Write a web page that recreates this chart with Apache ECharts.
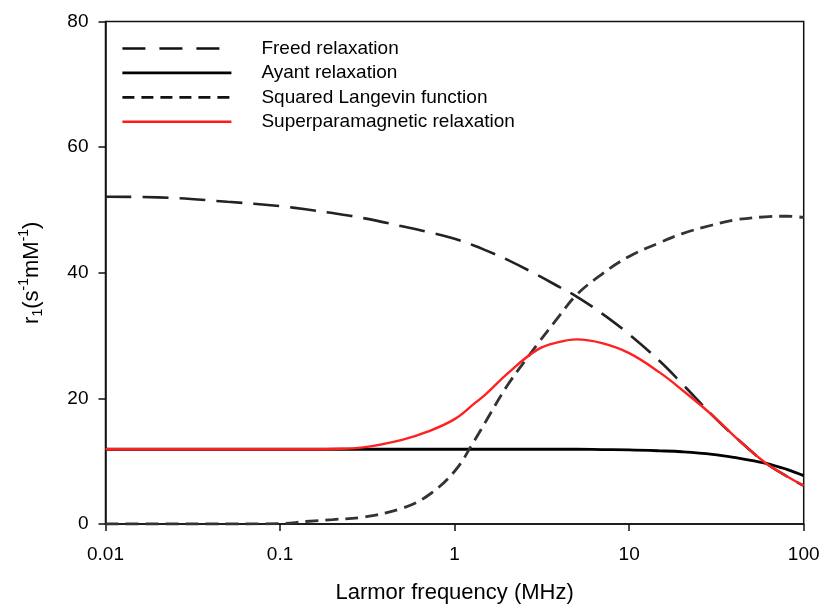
<!DOCTYPE html>
<html>
<head>
<meta charset="utf-8">
<script src="https://cdn.jsdelivr.net/npm/echarts@6/dist/echarts.min.js"></script>
<style>
  html, body { margin: 0; padding: 0; background: #fff; }
  #chart { width: 823px; height: 612px; }
</style>
</head>
<body>
<div id="chart"></div>
<script>
// Larmor frequency sample points (MHz)
const freq = [0.01, 0.02, 0.05, 0.1, 0.14, 0.2, 0.3, 0.5, 0.7, 1, 1.3, 1.5, 2, 3, 4, 5, 7, 10, 15, 20, 30, 40, 60, 80, 100];

// r1 (s^-1 mM^-1) for each model
const freedRelaxation = [52.1, 52.0, 51.3, 50.6, 50.1, 49.5, 48.7, 47.4, 46.5, 45.4, 44.3, 43.6, 42.1, 39.6, 37.7, 36.2, 33.5, 30.2, 25.9, 22.4, 17.3, 14.0, 9.8, 7.6, 6.1];
const ayantRelaxation = [11.9, 11.9, 11.9, 11.9, 11.9, 11.9, 11.9, 11.9, 11.9, 11.9, 11.9, 11.9, 11.9, 11.9, 11.9, 11.9, 11.85, 11.8, 11.65, 11.5, 11.1, 10.6, 9.7, 8.7, 7.7];
const squaredLangevin = [0, 0, 0, 0.05, 0.4, 0.7, 1.1, 2.5, 4.5, 8.4, 13.3, 16.2, 22.0, 28.7, 33.2, 36.5, 39.8, 42.6, 44.8, 46.2, 47.6, 48.4, 48.9, 49.0, 48.8];
const superparamagnetic = [11.9, 11.9, 11.9, 11.9, 11.9, 11.95, 12.2, 13.4, 14.7, 16.7, 19.2, 20.6, 23.9, 27.8, 29.0, 29.4, 28.8, 27.2, 24.1, 21.4, 17.3, 14.0, 9.8, 7.6, 6.1];

const xTickLabels = ['0.01', '0.1', '1', '10', '100'];
const yTickLabels = ['0', '20', '40', '60', '80'];

const pairs = vals => freq.map((f, i) => [f, vals[i]]);

const chart = echarts.init(document.getElementById('chart'), null, { renderer: 'canvas' });

const FONT = 'Liberation Sans, Arial, sans-serif';

// the legend samples only show the line, no marker
const noMarker = { color: 'transparent', borderColor: 'transparent', borderWidth: 0, opacity: 0 };

chart.setOption({
  animation: false,
  backgroundColor: '#fff',
  textStyle: { fontFamily: FONT },
  grid: {
    left: 105.5, right: 19.3, top: 21.5, bottom: 88,
    show: true, borderColor: '#111', borderWidth: 1.5, backgroundColor: 'transparent'
  },
  legend: {
    orient: 'vertical',
    left: 121, top: 39,
    padding: 0,
    itemWidth: 109, itemHeight: 14, itemGap: 5.4,
    itemStyle: noMarker,
    textStyle: { fontSize: 19, color: '#000', fontFamily: FONT, padding: [0, 0, 0, 25] },
    data: [
      { name: 'Freed relaxation', lineStyle: { type: [23, 14], width: 2.6, color: '#111' } },
      { name: 'Ayant relaxation', lineStyle: { width: 2.6, color: '#000' } },
      { name: 'Squared Langevin function', lineStyle: { type: [12, 7], width: 2.8, color: '#111' } },
      { name: 'Superparamagnetic relaxation', lineStyle: { width: 2.6, color: '#ff1a1a' } }
    ]
  },
  xAxis: {
    type: 'log', logBase: 10, min: 0.01, max: 100,
    name: 'Larmor frequency (MHz)', nameLocation: 'middle', nameGap: 58,
    nameTextStyle: { fontSize: 22, color: '#000', fontFamily: FONT },
    axisLine: { lineStyle: { color: '#111', width: 1.5 } },
    axisTick: { show: true, inside: false, length: 7, lineStyle: { color: '#111', width: 1.5 } },
    minorTick: { show: false },
    splitLine: { show: false },
    axisLabel: {
      fontSize: 19, color: '#000', margin: 21, fontFamily: FONT,
      formatter: v => xTickLabels[Math.round(Math.log10(v)) + 2]
    }
  },
  yAxis: {
    type: 'value', min: 0, max: 80, interval: 20,
    name: '{m|r}{b|1}{m|(s}{t|-1}{m|mM}{t|-1}{m|)}', nameLocation: 'middle', nameGap: 60, nameRotate: 90,
    nameTextStyle: {
      color: '#000', fontFamily: FONT,
      rich: {
        m: { fontSize: 22, color: '#000', fontFamily: FONT, lineHeight: 28, verticalAlign: 'middle' },
        b: { fontSize: 14, color: '#000', fontFamily: FONT, lineHeight: 28, verticalAlign: 'bottom' },
        t: { fontSize: 14, color: '#000', fontFamily: FONT, lineHeight: 28, verticalAlign: 'top' }
      }
    },
    axisLine: { show: true, lineStyle: { color: '#111', width: 1.5 } },
    axisTick: { show: true, inside: false, length: 7, lineStyle: { color: '#111', width: 1.5 } },
    splitLine: { show: false },
    axisLabel: {
      fontSize: 19, color: '#000', margin: 17, fontFamily: FONT,
      formatter: v => yTickLabels[Math.round(v / 20)]
    }
  },
  series: [
    {
      name: 'Freed relaxation', type: 'line', data: pairs(freedRelaxation),
      smooth: 0.4, symbol: 'none', color: '#222',
      lineStyle: { color: '#222', width: 2.6, type: [26, 11] }
    },
    {
      name: 'Ayant relaxation', type: 'line', data: pairs(ayantRelaxation),
      smooth: 0.4, symbol: 'none', color: '#000',
      lineStyle: { color: '#000', width: 2.8, type: 'solid' }
    },
    {
      name: 'Squared Langevin function', type: 'line', data: pairs(squaredLangevin),
      smooth: 0.4, symbol: 'none', color: '#333',
      lineStyle: { color: '#333', width: 2.8, type: [13, 7] }
    },
    {
      name: 'Superparamagnetic relaxation', type: 'line', data: pairs(superparamagnetic),
      smooth: 0.4, symbol: 'none', color: '#ff2020',
      lineStyle: { color: '#ff2020', width: 2.4, type: 'solid' }
    }
  ]
});
</script>
</body>
</html>
